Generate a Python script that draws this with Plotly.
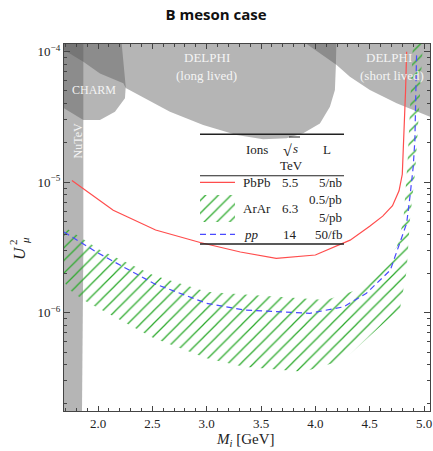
import plotly.graph_objects as go

# ---------------- data ----------------
# PbPb 5/nb sensitivity (red solid)
mass_pbpb = [1.76, 2.14, 2.53, 2.94, 3.31, 3.64, 4.00, 4.32, 4.50, 4.62, 4.71, 4.77, 4.80, 4.815, 4.83, 4.84]
u2_pbpb = [1.03e-5, 6.1e-6, 4.3e-6, 3.45e-6, 2.92e-6, 2.61e-6, 2.77e-6, 3.6e-6, 4.6e-6, 5.5e-6, 6.6e-6, 8.6e-6, 1.15e-5, 2.1e-5, 5.0e-5, 1.0e-4]

# pp 50/fb sensitivity (blue dashed)
mass_pp = [1.687, 1.76, 1.99, 2.51, 3.00, 3.34, 3.95, 4.26, 4.47, 4.69, 4.84, 4.87, 4.90, 4.916, 4.932]
u2_pp = [4.15e-6, 3.82e-6, 2.9e-6, 1.68e-6, 1.18e-6, 1.05e-6, 0.99e-6, 1.11e-6, 1.41e-6, 2.12e-6, 4.84e-6, 7.7e-6, 1.3e-5, 2.1e-5, 1.0e-4]

# ArAr band (green hatch): 0.5/pb (upper edge) and 5/pb (lower edge)
mass_ar_hi = [1.687, 2.02, 2.51, 3.00, 3.18, 4.10, 4.47, 4.75, 4.81, 4.85, 4.898]
u2_ar_hi = [4.56e-6, 3.02e-6, 1.94e-6, 1.45e-6, 1.41e-6, 1.25e-6, 1.58e-6, 3.2e-6, 5.1e-6, 1.5e-5, 1.15e-4]
mass_ar_lo = [1.687, 1.74, 1.865, 2.51, 3.00, 3.34, 3.89, 4.26, 4.78, 4.84, 4.87, 4.92, 4.96, 4.99]
u2_ar_lo = [1.73e-6, 1.49e-6, 1.25e-6, 6.4e-7, 4.47e-7, 3.86e-7, 3.53e-7, 4.34e-7, 1.08e-6, 2.1e-6, 5.1e-6, 1.24e-5, 4.3e-5, 1.15e-4]

# Excluded regions (grey)
nutev_m = [1.60, 1.865, 1.865, 1.860, 1.852, 1.850, 1.60]
nutev_u2 = [2e-4, 2e-4, 3e-6, 1e-6, 3e-7, 1e-7, 1e-7]

charm_m = [1.60, 1.687, 1.865, 2.018, 2.156, 2.248, 2.255, 2.218, 2.21, 1.60]
charm_u2 = [4.07e-5, 3.68e-5, 3.0e-5, 3.0e-5, 3.47e-5, 4.40e-5, 5.40e-5, 1.15e-4, 2e-4, 2e-4]

delphi_long_m = [1.60, 1.687, 1.865, 2.018, 2.233, 2.255, 2.662, 2.968, 3.276, 3.520, 3.736, 3.888,
                 4.042, 4.134, 4.180, 4.189, 4.196, 4.20, 1.60]
delphi_long_u2 = [1.14e-4, 1.03e-4, 8.38e-5, 6.82e-5, 5.73e-5, 5.27e-5, 3.47e-5, 2.74e-5, 2.30e-5, 2.13e-5,
                  2.17e-5, 2.37e-5, 2.82e-5, 3.79e-5, 5.09e-5, 7.91e-5, 1.15e-4, 2e-4, 2e-4]

delphi_short_m = [3.75, 3.920, 4.196, 4.318, 4.502, 4.748, 5.054, 5.2, 5.2, 3.75]
delphi_short_u2 = [1.44e-4, 1.15e-4, 7.91e-5, 6.43e-5, 5.09e-5, 4.03e-5, 3.18e-5, 2.84e-5, 2e-4, 2e-4]

x_ticks = [2.0, 2.5, 3.0, 3.5, 4.0, 4.5, 5.0]
x_ticklabels = ["2.0", "2.5", "3.0", "3.5", "4.0", "4.5", "5.0"]
y_ticks = [1e-6, 1e-5, 1e-4]
y_ticklabels = ["10<sup>\u22126</sup>", "10<sup>\u22125</sup>", "10<sup>\u22124</sup>"]

# table contents
tbl_ions = ["PbPb", "ArAr", "<i>pp</i>"]
tbl_sqrts = ["5.5", "6.3", "14"]
tbl_lumi = ["5/nb", "0.5/pb", "5/pb", "50/fb"]

# ---------------- styles ----------------
SERIF = "Liberation Serif"
GREY = "rgba(90,90,90,0.45)"
RED = "#ff4d4d"
BLUE = "#4a4aff"
GREEN = "#2eaa2e"
AX = "#444444"
hatch = dict(shape="/", fgcolor=GREEN, fgopacity=1, bgcolor="rgba(0,0,0,0)", size=9, solidity=0.14)

# plot-area geometry (pixels) used for placing the table and titles
L_PX, R_PX, T_PX, B_PX = 64, 430, 44, 411

fig = go.Figure()

for m, u in [(nutev_m, nutev_u2), (charm_m, charm_u2), (delphi_long_m, delphi_long_u2), (delphi_short_m, delphi_short_u2)]:
    fig.add_trace(go.Scatter(x=m, y=u, mode="lines", fill="toself", fillcolor=GREY,
                             line=dict(width=0), hoverinfo="skip"))

# ArAr hatched band
band_m = mass_ar_hi + mass_ar_lo[::-1]
band_u = u2_ar_hi + u2_ar_lo[::-1]
fig.add_trace(go.Scatter(x=band_m, y=band_u, mode="lines", fill="toself", fillcolor="rgba(0,0,0,0)",
                         fillpattern=hatch, line=dict(width=0), hoverinfo="skip"))

fig.add_trace(go.Scatter(x=mass_pbpb, y=u2_pbpb, mode="lines", line=dict(color=RED, width=1.2)))
fig.add_trace(go.Scatter(x=mass_pp, y=u2_pp, mode="lines", line=dict(color=BLUE, width=1.2, dash="6px,4px")))

# ---------------- table (pixel-space overlay axes) ----------------
def ov(**kw):
    kw.update(xaxis="x2", yaxis="y2", hoverinfo="skip")
    return kw

TL, TR = 200, 344
for yr, w in [(134.3, 1.4), (175.7, 1.1), (244.0, 1.4)]:
    fig.add_trace(go.Scatter(**ov(x=[TL, TR], y=[yr, yr], mode="lines", line=dict(color="#222", width=w))))
# sample marks
fig.add_trace(go.Scatter(**ov(x=[200, 235], y=[182.3, 182.3], mode="lines", line=dict(color=RED, width=1.2))))
fig.add_trace(go.Scatter(**ov(x=[200, 235, 235, 200, 200], y=[195, 195, 222, 222, 195], mode="lines",
                              fill="toself", fillcolor="rgba(0,0,0,0)", fillpattern=hatch, line=dict(width=0))))
fig.add_trace(go.Scatter(**ov(x=[200, 235], y=[234.3, 234.3], mode="lines",
                              line=dict(color=BLUE, width=1.2, dash="6px,4px"))))
# overline of sqrt(s)
fig.add_trace(go.Scatter(**ov(x=[289, 300], y=[137.0, 137.0], mode="lines", line=dict(color="#222", width=1))))

ann = []
def txt(x, y, t, size=13, color="#222", xanchor="center", angle=0):
    # x, y in pixels of the picture; converted to paper fractions
    ann.append(dict(x=(x - L_PX) / (R_PX - L_PX), y=(B_PX - y) / (B_PX - T_PX), xref="paper", yref="paper",
                    text=t, showarrow=False, xanchor=xanchor, yanchor="middle", textangle=angle,
                    font=dict(family=SERIF, size=size, color=color)))

txt(257, 149, "Ions")
txt(287, 150, "\u221a", size=16)
txt(295, 148, "<i>s</i>")
txt(326.5, 149, "L")
txt(291, 165, "TeV")
txt(256.5, 182.5, tbl_ions[0]); txt(290, 182.5, tbl_sqrts[0]); txt(344, 182.5, tbl_lumi[0], xanchor="right")
txt(256.5, 208.5, tbl_ions[1]); txt(290, 208.5, tbl_sqrts[1])
txt(344, 199, tbl_lumi[1], xanchor="right"); txt(344, 217, tbl_lumi[2], xanchor="right")
txt(251, 234, tbl_ions[2]); txt(290, 234, tbl_sqrts[2]); txt(344, 234, tbl_lumi[3], xanchor="right")

# region labels
W = "#f4f4f4"
txt(93.5, 90, "CHARM", size=12, color=W)
txt(77.5, 141, "NuTeV", size=12, color=W, angle=-90)
txt(206.5, 57.5, "DELPHI", size=13, color=W)
txt(206.5, 76, "(long lived)", size=13, color=W)
txt(389, 57.5, "DELPHI", size=13, color=W)
txt(392, 76, "(short lived)", size=13, color=W)

# axis titles
txt(245, 440, "<i>M<sub>i</sub></i> [GeV]", size=15)
txt(19, 253, "<i>U</i>", size=17, angle=-90)
txt(13, 242, "2", size=11, angle=-90)
txt(25, 241, "<i>\u03bc</i>", size=11, angle=-90)

minor_x = [round(1.7 + 0.1 * i, 1) for i in range(34) if round(1.7 + 0.1 * i, 1) not in x_ticks]
minor_y = [k * 10.0 ** e for e in (-7, -6, -5, -4) for k in range(2, 10)]

fig.update_layout(
    width=433, height=451, margin=dict(l=L_PX, r=433 - R_PX, t=T_PX, b=451 - B_PX, autoexpand=False),
    paper_bgcolor="white", plot_bgcolor="white", showlegend=False,
    title=dict(text="<b>B meson case</b>", x=0.499, xanchor="center", y=0.968, yanchor="middle",
               font=dict(family="Open Sans", size=15, color="#111")),
    xaxis=dict(range=[1.687, 5.055], tickvals=x_ticks, ticktext=x_ticklabels, ticks="inside", ticklen=5,
               tickcolor=AX, mirror="allticks", showline=True, linecolor=AX, linewidth=1.2, automargin=False,
               showgrid=False, zeroline=False, tickfont=dict(family=SERIF, size=13, color="#222"),
               minor=dict(tickvals=minor_x, ticks="inside", ticklen=3, tickcolor=AX, showgrid=False)),
    yaxis=dict(type="log", range=[-6.753, -3.941], tickvals=y_ticks, ticktext=y_ticklabels, ticks="inside",
               ticklen=6, tickcolor=AX, mirror="allticks", showline=True, linecolor=AX, linewidth=1.2,
               automargin=False,
               showgrid=False, zeroline=False, tickfont=dict(family=SERIF, size=13, color="#222"),
               minor=dict(tickvals=minor_y, ticks="inside", ticklen=3, tickcolor=AX, showgrid=False)),
    xaxis2=dict(overlaying="x", anchor="y2", range=[L_PX, R_PX], visible=False, fixedrange=True, automargin=False),
    yaxis2=dict(overlaying="y", anchor="x2", range=[B_PX, T_PX], visible=False, fixedrange=True, automargin=False),
    annotations=ann,
)

fig.write_html("out.html", config={"displayModeBar": False, "staticPlot": True},
               post_script="document.body.style.margin='0';document.body.style.padding='0';"
                           "document.body.style.overflow='hidden';")
